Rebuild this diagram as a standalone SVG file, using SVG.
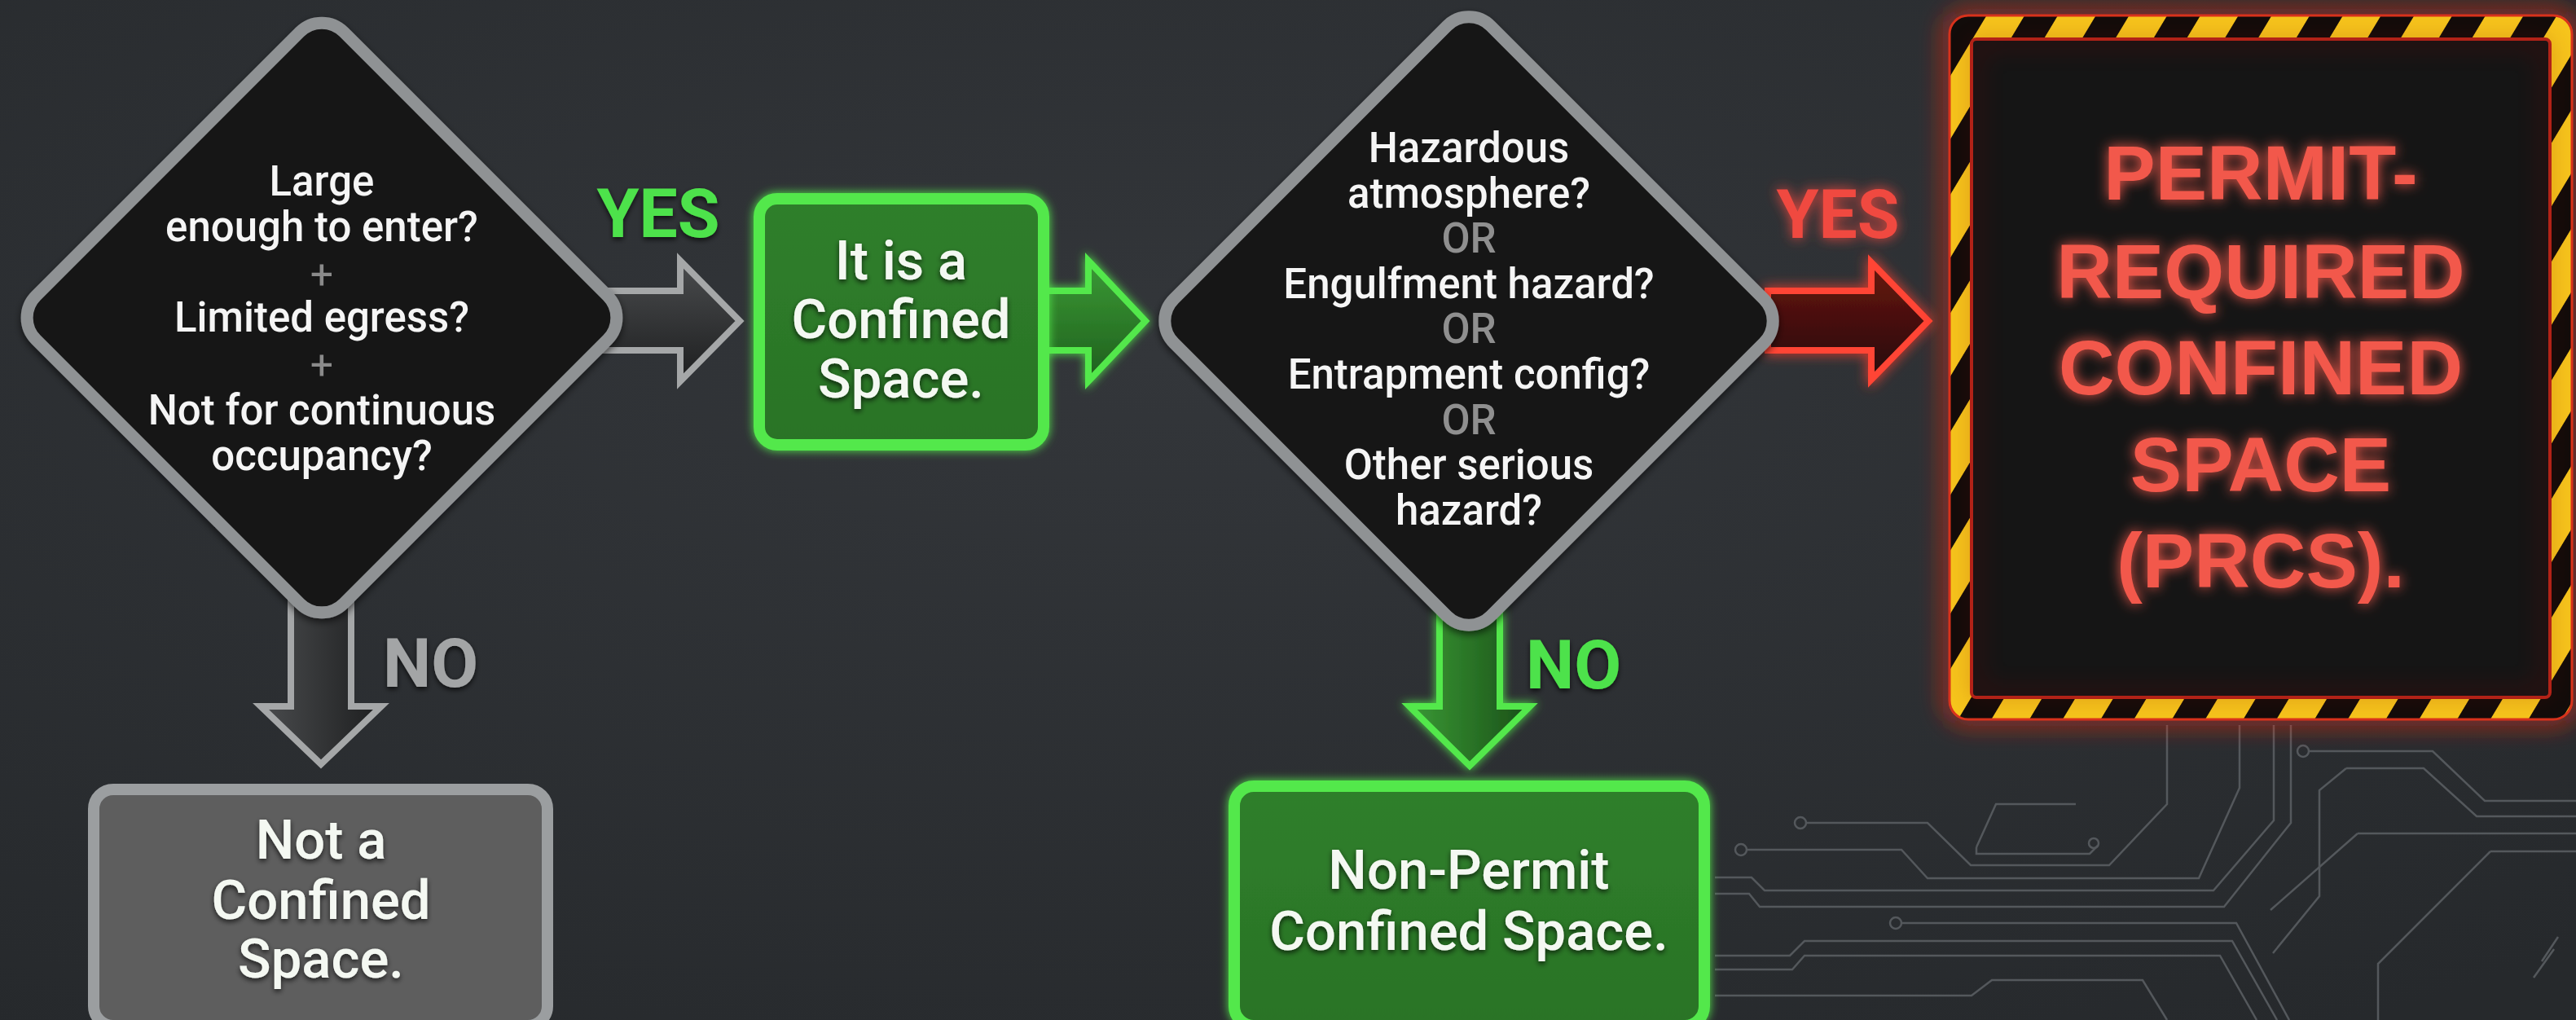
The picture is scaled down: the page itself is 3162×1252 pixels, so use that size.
<svg xmlns="http://www.w3.org/2000/svg" width="3162" height="1252" viewBox="0 0 3162 1252">
<defs>
<radialGradient id="bg" cx="0.45" cy="0.35" r="0.8">
<stop offset="0" stop-color="#33363a"/>
<stop offset="1" stop-color="#26292c"/>
</radialGradient>
<linearGradient id="grayFill" x1="0" y1="0" x2="0" y2="1">
<stop offset="0" stop-color="#4a4c4e"/>
<stop offset="1" stop-color="#1d1e1f"/>
</linearGradient>
<linearGradient id="grayFillV" x1="0" y1="0" x2="1" y2="0">
<stop offset="0" stop-color="#4a4c4e"/>
<stop offset="1" stop-color="#1d1e1f"/>
</linearGradient>
<linearGradient id="greenFill" x1="0" y1="0" x2="0" y2="1">
<stop offset="0" stop-color="#3a9a35"/>
<stop offset="1" stop-color="#1f5e1d"/>
</linearGradient>
<linearGradient id="greenFillV" x1="0" y1="0" x2="1" y2="0">
<stop offset="0" stop-color="#3a9a35"/>
<stop offset="1" stop-color="#1a4f18"/>
</linearGradient>
<linearGradient id="redFill" x1="0" y1="0" x2="0" y2="1">
<stop offset="0" stop-color="#6a1611"/>
<stop offset="1" stop-color="#240907"/>
</linearGradient>
<linearGradient id="boxGreen" x1="0" y1="0" x2="0" y2="1">
<stop offset="0" stop-color="#2f7f2b"/>
<stop offset="1" stop-color="#2a7326"/>
</linearGradient>
<pattern id="haz" patternUnits="userSpaceOnUse" width="75" height="75" patternTransform="rotate(31)">
<rect width="75" height="75" fill="#120c0a"/>
<rect width="40" height="75" fill="#f6c41c"/>
</pattern>
<filter id="glowG" x="-20%" y="-20%" width="140%" height="140%">
<feGaussianBlur in="SourceGraphic" stdDeviation="6" result="b"/>
<feMerge><feMergeNode in="b"/><feMergeNode in="SourceGraphic"/></feMerge>
</filter>
<filter id="glowR" x="-20%" y="-20%" width="140%" height="140%">
<feGaussianBlur in="SourceGraphic" stdDeviation="8" result="b"/>
<feMerge><feMergeNode in="b"/><feMergeNode in="SourceGraphic"/></feMerge>
</filter>
<filter id="bigGlowR" x="-10%" y="-10%" width="120%" height="120%">
<feGaussianBlur stdDeviation="14"/>
</filter>
<filter id="shadow" x="-20%" y="-20%" width="140%" height="140%">
<feDropShadow dx="0" dy="4" stdDeviation="5" flood-color="#000" flood-opacity="0.6"/>
</filter>
<filter id="txtShadow" x="-10%" y="-20%" width="120%" height="150%">
<feDropShadow dx="0" dy="3" stdDeviation="3" flood-color="#000" flood-opacity="0.7"/>
</filter>
<style>
.q{font-family:Roboto,"Liberation Sans",sans-serif;font-size:51px;font-weight:500;fill:#f5f5f5;text-anchor:middle}
.plus{font-family:Roboto,"Liberation Sans",sans-serif;font-size:50px;fill:#8a8a8a;text-anchor:middle}
.or{font-family:Roboto,"Liberation Sans",sans-serif;font-size:51px;font-weight:500;fill:#8f8f8f;text-anchor:middle}
.box{font-family:Roboto,"Liberation Sans",sans-serif;font-size:67px;font-weight:500;fill:#f4f8f2;text-anchor:middle}
.lbl{font-family:Roboto,"Liberation Sans",sans-serif;font-weight:bold;font-size:84px}
.prcs{font-family:"Liberation Sans",Arial,sans-serif;font-weight:bold;font-size:95px;fill:#f2584c;text-anchor:middle}
.diam{fill:#151515;stroke:#8f9294;stroke-width:15}
.trace{fill:none;stroke:#54585c;stroke-width:2.5}
</style>
</defs>
<rect width="3162" height="1252" fill="url(#bg)"/>

<!-- decorative circuit traces -->
<g id="circuit" class="trace">
<circle cx="2210" cy="1010" r="7"/>
<path d="M2217 1010 H2366 L2419 1062 H2589 L2660 987 V890"/>
<circle cx="2137" cy="1043" r="7"/>
<path d="M2144 1043 H2334 L2366 1078 H2699 L2749 967 V890"/>
<path d="M2105 1077 H2150 L2166 1093 H2717 L2791 1007 V890"/>
<path d="M2105 1097 H2147 L2160 1113 H2730 L2812 1010 V890"/>
<circle cx="2327" cy="1133" r="7"/>
<path d="M2334 1133 H2745 L2810 1252"/>
<path d="M2105 1173 H2197 L2215 1155 H2740 L2795 1252"/>
<path d="M2105 1190 H2200 L2215 1173 H2725 L2770 1252"/>
<path d="M2105 1222 H2420 L2445 1203 H2630 L2660 1252"/>
<path d="M2426 1040 L2450 987 H2548 M2426 1040 V1048 H2565 L2575 1038"/>
<circle cx="2570" cy="1035" r="6"/>
<circle cx="2827" cy="922" r="7"/>
<path d="M2834 922 H2986 L3050 983 H3162"/>
<path d="M2880 943 H2975 L3040 1002 H3162 M2880 943 L2847 970 V1100 L2790 1170"/>
<path d="M2894 1023 H3162 M2894 1023 L2787 1117"/>
<path d="M3057 1045 H3162 M3057 1045 L2919 1183 V1252"/>
<path d="M3120 1180 L3140 1150 M3110 1200 L3135 1165"/>
</g>

<!-- connectors -->
<g id="connectors">
<g id="c-yes1">
<path d="M740 357 H835 V320 L908 394 L835 468 V430 H740 Z" fill="url(#grayFill)" stroke="#a5a7a8" stroke-width="8" stroke-linejoin="miter"/>
<text class="lbl" x="808" y="291" text-anchor="middle" fill="#4ee24b" filter="url(#txtShadow)">YES</text>
</g>
<g id="c-next" filter="url(#glowG)">
<path d="M1280 357 H1336 V320 L1406 394 L1336 468 V430 H1280 Z" fill="url(#greenFill)" stroke="#52e84c" stroke-width="8"/>
</g>
<g id="c-yes2">
<path d="M2170 357 H2297 V322 L2367 394 L2297 466 V430 H2170 Z" fill="url(#redFill)" stroke="#ff4434" stroke-width="8" filter="url(#glowR)"/>
<text class="lbl" x="2256" y="292" text-anchor="middle" fill="#f04a40" filter="url(#glowR)">YES</text>
</g>
<g id="c-no1">
<path d="M357 740 V867 H320 L394 938 L468 867 H431 V740 Z" fill="url(#grayFillV)" stroke="#a5a7a8" stroke-width="8"/>
<text class="lbl" x="470" y="843" font-size="80" fill="#a3a5a6" filter="url(#txtShadow)">NO</text>
</g>
<g id="c-no2">
<path d="M1767 750 V867 H1730 L1804 940 L1878 867 H1841 V750 Z" fill="url(#greenFillV)" stroke="#52e84c" stroke-width="8" filter="url(#glowG)"/>
<text class="lbl" x="1873" y="845" fill="#4ee24b" filter="url(#txtShadow)">NO</text>
</g>
</g>

<!-- nodes -->
<g id="q1" filter="url(#shadow)">
<rect class="diam" x="128" y="123" width="534" height="534" rx="38" transform="rotate(45 395 390)"/>
<text class="q" x="395" y="240">Large</text>
<text class="q" x="395" y="296">enough to enter?</text>
<text class="plus" x="395" y="354">+</text>
<text class="q" x="395" y="407">Limited egress?</text>
<text class="plus" x="395" y="465">+</text>
<text class="q" x="395" y="521">Not for continuous</text>
<text class="q" x="395" y="577">occupancy?</text>
</g>

<g id="confined">
<rect x="932" y="244" width="349" height="302" rx="22" fill="url(#boxGreen)" stroke="#52e84c" stroke-width="14" filter="url(#glowG)"/>
<g filter="url(#txtShadow)">
<text class="box" x="1106" y="343">It is a</text>
<text class="box" x="1106" y="415">Confined</text>
<text class="box" x="1106" y="488">Space.</text>
</g>
</g>

<g id="q2" filter="url(#shadow)">
<rect class="diam" x="1528" y="119" width="550" height="550" rx="38" transform="rotate(45 1803 394)"/>
<text class="q" x="1803" y="199">Hazardous</text>
<text class="q" x="1803" y="255">atmosphere?</text>
<text class="or" x="1803" y="310">OR</text>
<text class="q" x="1803" y="366">Engulfment hazard?</text>
<text class="or" x="1803" y="421">OR</text>
<text class="q" x="1803" y="477">Entrapment config?</text>
<text class="or" x="1803" y="533">OR</text>
<text class="q" x="1803" y="588">Other serious</text>
<text class="q" x="1803" y="644">hazard?</text>
</g>

<g id="prcs">
<rect x="2392" y="18" width="766" height="866" rx="24" fill="none" stroke="#ff2a14" stroke-width="10" filter="url(#bigGlowR)"/>
<rect x="2392" y="18" width="766" height="866" rx="24" fill="url(#haz)"/>
<rect x="2393" y="19" width="764" height="864" rx="23" fill="none" stroke="#d8321c" stroke-width="3"/>
<rect x="2420" y="48" width="710" height="808" rx="6" fill="#151515" stroke="#b8261a" stroke-width="4"/>
<rect x="2426" y="54" width="698" height="796" rx="4" fill="none" stroke="#7a1710" stroke-width="8" filter="url(#bigGlowR)" opacity="0.45"/>
<g filter="url(#glowR)">
<text class="prcs" x="2775" y="245">PERMIT-</text>
<text class="prcs" x="2775" y="366">REQUIRED</text>
<text class="prcs" x="2775" y="484">CONFINED</text>
<text class="prcs" x="2775" y="603">SPACE</text>
<text class="prcs" x="2775" y="721">(PRCS).</text>
</g>
</g>

<g id="not-confined">
<rect x="115" y="969" width="557" height="290" rx="24" fill="#5e5e5e" stroke="#9b9ea0" stroke-width="14"/>
<g filter="url(#txtShadow)">
<text class="box" x="394" y="1054">Not a</text>
<text class="box" x="394" y="1128">Confined</text>
<text class="box" x="394" y="1200">Space.</text>
</g>
</g>

<g id="non-permit">
<rect x="1515" y="965" width="577" height="294" rx="24" fill="url(#boxGreen)" stroke="#52e84c" stroke-width="14" filter="url(#glowG)"/>
<g filter="url(#txtShadow)">
<text class="box" x="1803" y="1091">Non-Permit</text>
<text class="box" x="1803" y="1166">Confined Space.</text>
</g>
</g>
</svg>
